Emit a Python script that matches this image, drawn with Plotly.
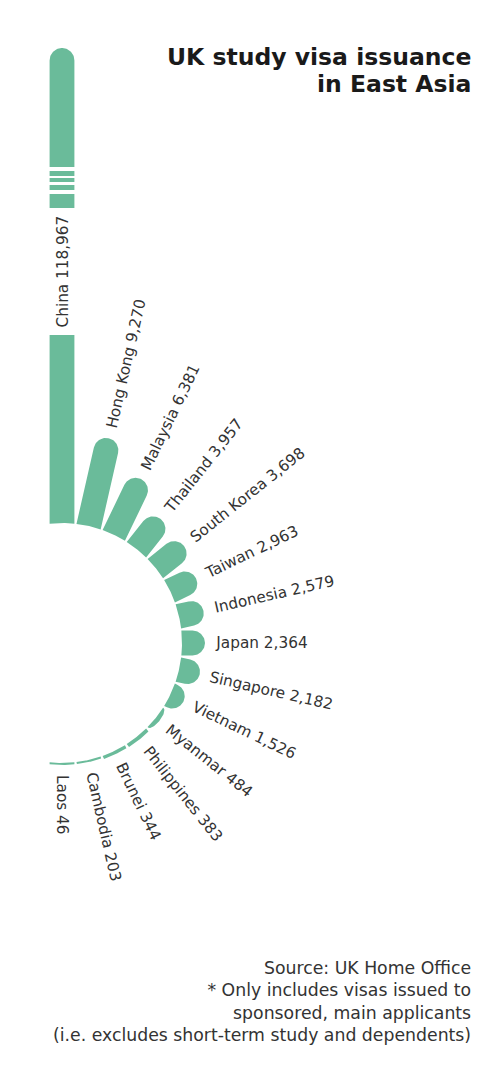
import numpy as np
import plotly.graph_objects as go

# ---- data ----
countries = ["China", "Hong Kong", "Malaysia", "Thailand", "South Korea", "Taiwan",
             "Indonesia", "Japan", "Singapore", "Vietnam", "Myanmar", "Philippines",
             "Brunei", "Cambodia", "Laos"]
visas = [118967, 9270, 6381, 3957, 3698, 2963, 2579, 2364, 2182, 1526, 484, 383,
         344, 203, 46]

title_lines = ["UK study visa issuance", "in East Asia"]
note_text = ("Source: UK Home Office<br>* Only includes visas issued to<br>"
             "sponsored, main applicants<br>(i.e. excludes short-term study and dependents)")

# ---- layout constants ----
PAGE_W, PAGE_H = 503, 1077
PAD = 8                              # default page (body) margin
W, H = PAGE_W - 2 * PAD, PAGE_H - 2 * PAD
K = 103.0                            # visas per screen pixel (same on both axes)
CX_PX, CY_PX = 62 - PAD, 643 - PAD   # centre of the half circle inside the figure
R0 = 120 * K                         # inner radius
HALF = 12.4 * K                      # half bar width
CHINA_SHOWN = 475 * K                # China bar is drawn truncated (broken axis)
GREEN = "#6ABB9A"
TXT = "#333333"
FONT = "DejaVu Sans"
LABEL_GAP = 11 * K

fig = go.Figure()

n = len(countries)
angles = np.radians(np.arange(n) * 180.0 / (n - 1))  # clockwise from up


def bar_polygon(theta, length):
    u = np.array([np.sin(theta), np.cos(theta)])      # outward direction
    nv = np.array([np.cos(theta), -np.sin(theta)])    # perpendicular
    s = np.linspace(-HALF, HALF, 30)
    inner = [nv * si + u * np.sqrt(R0 ** 2 - si ** 2) for si in s]
    phi = np.linspace(0, np.pi, 40)
    if length >= HALF:
        d = R0 + length - HALF
        cap = [nv * HALF * np.cos(p) + u * (d + HALF * np.sin(p)) for p in phi]
        pts = inner + cap
    elif length >= 4.5 * K:
        cap = [nv * HALF * np.cos(p) + u * (R0 + length * np.sin(p)) for p in phi]
        pts = inner + cap
    else:
        t = max(length, 2.0 * K)
        outer = [nv * si + u * (np.sqrt(R0 ** 2 - si ** 2) + t) for si in s[::-1]]
        pts = inner + outer
    pts = np.array(pts)
    return np.append(pts[:, 0], pts[0, 0]), np.append(pts[:, 1], pts[0, 1])


annotations = []
for i, (c, v) in enumerate(zip(countries, visas)):
    th = angles[i]
    length = CHINA_SHOWN if v > CHINA_SHOWN else v
    xs, ys = bar_polygon(th, length)
    fig.add_trace(go.Scatter(x=xs, y=ys, mode="lines", fill="toself",
                             fillcolor=GREEN, line=dict(width=0, color=GREEN),
                             hoverinfo="skip", showlegend=False))
    label = f"{c} {v:,}"
    deg = np.degrees(th)
    if v > CHINA_SHOWN:
        r = (308 + 435) / 2 * K
        txt = label
    else:
        r = R0 + length + LABEL_GAP
        txt = f"<span style='color:rgba(0,0,0,0)'>{label}</span>{label}"
    annotations.append(dict(x=r * np.sin(th), y=r * np.cos(th), xref="x", yref="y",
                            text=txt, showarrow=False, textangle=deg - 90,
                            xanchor="center", yanchor="middle",
                            font=dict(family=FONT, size=15.3, color=TXT)))

# broken-axis cut-outs on the China bar
shapes = []
cuts = [(308, 435), (449, 453), (458, 461), (465, 467), (472, 476)]
for a, b in cuts:
    shapes.append(dict(type="rect", xref="x", yref="y", layer="above",
                       x0=-HALF - 3 * K, x1=HALF + 3 * K, y0=a * K, y1=b * K,
                       fillcolor="white", line=dict(width=0)))

# title (two lines, tight leading)
for j, line in enumerate(title_lines):
    yc = 57 + 27.5 * j
    annotations.append(dict(xref="paper", yref="paper", x=(473 - PAD) / W,
                            y=1 - (yc - PAD) / H,
                            xanchor="right", yanchor="middle", align="right",
                            text=f"<b>{line}</b>", showarrow=False,
                            font=dict(family=FONT, size=23.5, color="#1a1a1a")))
annotations.append(dict(xref="paper", yref="paper", x=(473 - PAD) / W,
                        y=1 - (955.5 - PAD) / H,
                        xanchor="right", yanchor="top", align="right",
                        text=note_text, showarrow=False,
                        font=dict(family=FONT, size=17.3, color=TXT)))

fig.update_layout(
    width=W, height=H, margin=dict(l=0, r=0, t=0, b=0),
    paper_bgcolor="white", plot_bgcolor="white",
    xaxis=dict(range=[-CX_PX * K, (W - CX_PX) * K], visible=False, fixedrange=True),
    yaxis=dict(range=[-(H - CY_PX) * K, CY_PX * K], visible=False, fixedrange=True),
    shapes=shapes, annotations=annotations, showlegend=False,
)

fig.write_html("out.html")
